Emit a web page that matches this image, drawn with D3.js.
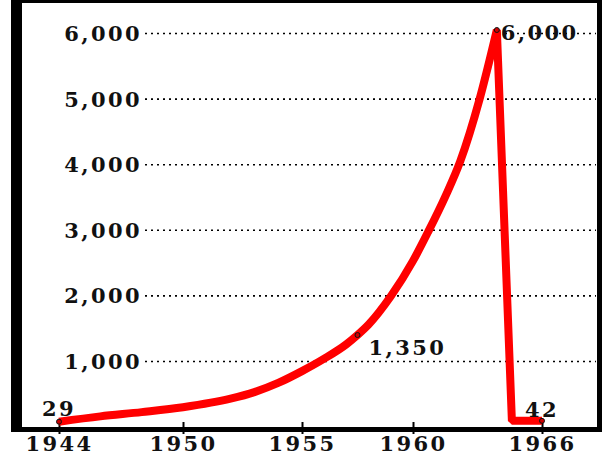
<!DOCTYPE html>
<html>
<head>
<meta charset="utf-8">
<script src="https://cdn.jsdelivr.net/npm/d3@7"></script>
<style>
  html, body { margin: 0; padding: 0; background: #fff; }
  svg { display: block; }
  .lbl { font-family: "DejaVu Serif", serif; font-weight: bold; font-size: 21px; letter-spacing: 2.4px; fill: #111; }
</style>
</head>
<body>
<div id="chart"></div>
<script>
// ---- data ----
const years  = [1944, 1946, 1948, 1950, 1952, 1953, 1954, 1955, 1956, 1957, 1957.5, 1958, 1959, 1960, 1960.7, 1961.5, 1962.2, 1963.1, 1963.9, 1964.6, 1966];
const values = [29,   110,  175,  250,  380,  480,  620,  800,  990,  1210, 1350,   1510, 1940, 2480, 2920,   3460,   4000,   4950,   6000,   42,     42];
const peakIndex = 18;
const xTickYears = [1944, 1950, 1955, 1960, 1966];
const yTickValues = [1000, 2000, 3000, 4000, 5000, 6000];
const callouts = [
  {year: 1944,   value: 29,   text: "29"},
  {year: 1957.5, value: 1350, text: "1,350"},
  {year: 1963.9, value: 6000, text: "6,000"},
  {year: 1966,   value: 42,   text: "42"}
];

const W = 602, H = 456;
const svg = d3.select("#chart").append("svg").attr("width", W).attr("height", H);
svg.append("rect").attr("width", W).attr("height", H).attr("fill", "#fff");

// hand-drawn axis: tick spacing is not perfectly uniform
const x = d3.scaleLinear().domain(xTickYears).range([59, 183, 302, 413, 542]);
const y = d3.scaleLinear().domain([0, 6000]).range([426.6, 33]);

// gridlines + y labels
const yAxis = d3.axisLeft(y).tickValues(yTickValues).tickFormat(d3.format(","))
  .tickSize(-451).tickPadding(5);
const gy = svg.append("g").attr("transform", "translate(145,0)").call(yAxis);
gy.select(".domain").remove();
gy.selectAll(".tick line").attr("stroke", "#000").attr("stroke-width", 1.6).attr("stroke-dasharray", "2,4");
gy.selectAll(".tick text").attr("class", "lbl").attr("font-size", null).attr("font-family", null)
  .attr("dy", "0.36em").attr("x", -3);

// frame
const frame = svg.append("g").attr("fill", "#000");
frame.append("rect").attr("x", 11).attr("y", 0).attr("width", 11).attr("height", 432);
frame.append("rect").attr("x", 11).attr("y", 0).attr("width", 591).attr("height", 3);
frame.append("rect").attr("x", 597).attr("y", 0).attr("width", 5).attr("height", 432);
frame.append("rect").attr("x", 11).attr("y", 427).attr("width", 591).attr("height", 5);

// x axis ticks + labels
const xAxis = d3.axisBottom(x).tickValues(xTickYears).tickFormat(d3.format("d"))
  .tickSizeInner(12).tickSizeOuter(0).tickPadding(6);
const gx = svg.append("g").attr("transform", "translate(0,422)").call(xAxis);
gx.select(".domain").remove();
gx.selectAll(".tick line").attr("stroke", "#000").attr("stroke-width", 2);
gx.selectAll(".tick text").attr("class", "lbl").attr("font-size", null).attr("font-family", null)
  .attr("dy", "0.71em").attr("y", 14);

// the line: smooth rise, straight fall, one path so the peak is pointed
const pts = years.map((yr, i) => ({year: yr, value: values[i]}));
const rise = pts.slice(0, peakIndex + 1);
const fall = pts.slice(peakIndex);
const off = -3;
const lineSmooth = d3.line().x(d => x(d.year)).y(d => y(d.value) + off).curve(d3.curveMonotoneX);
const lineStraight = d3.line().x(d => x(d.year)).y(d => y(d.value) + off).curve(d3.curveLinear);
const dPath = lineSmooth(rise) + lineStraight(fall.slice(1)).replace(/^M/, "L");
svg.append("path").attr("d", dPath)
  .attr("fill", "none").attr("stroke", "#ff0000").attr("stroke-width", 8)
  .attr("stroke-linejoin", "bevel").attr("stroke-linecap", "butt");

// markers
svg.selectAll("circle.mk").data(callouts).join("circle").attr("class", "mk")
  .attr("cx", d => x(d.year)).attr("cy", d => y(d.value) + off).attr("r", 2.5)
  .attr("fill", "#c00").attr("stroke", "#111").attr("stroke-width", 1);

// callout labels
const offs = [
  {dx: 0, dy: -9, anchor: "middle"},
  {dx: 11, dy: 17, anchor: "start"},
  {dx: 4, dy: 7, anchor: "start"},
  {dx: 0, dy: -7, anchor: "middle"}
];
svg.selectAll("text.co").data(callouts).join("text").attr("class", "co lbl")
  .attr("x", (d, i) => x(d.year) + offs[i].dx)
  .attr("y", (d, i) => y(d.value) + offs[i].dy)
  .attr("text-anchor", (d, i) => offs[i].anchor)
  .text(d => d.text);
</script>
</body>
</html>
